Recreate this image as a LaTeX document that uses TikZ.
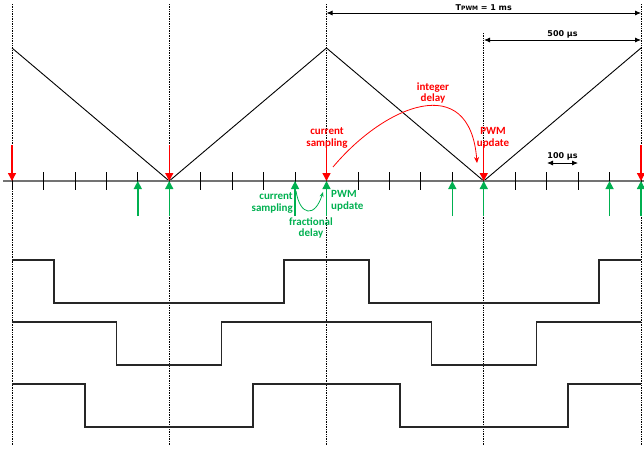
\documentclass[tikz,border=0pt]{standalone}
\usepackage{fontspec}
\usepackage{tikz}
\usetikzlibrary{arrows.meta}
\newfontfamily\lblfont{Carlito}
\newfontfamily\dimfont{DejaVu Sans}
\definecolor{pwmred}{RGB}{255,0,0}
\definecolor{pwmgreen}{RGB}{0,176,80}
\tikzset{
  vline/.style={densely dotted, line width=0.7pt},
  redarr/.style={pwmred, line width=1.4pt, -{Triangle[width=8pt,length=8pt]}},
  greenarr/.style={pwmgreen, line width=1.4pt, -{Triangle[width=8pt,length=8pt]}},
  redlbl/.style={pwmred, font=\lblfont\bfseries\fontsize{11}{11.5}\selectfont, align=center, inner sep=0pt},
  greenlbl/.style={pwmgreen, font=\lblfont\bfseries\fontsize{11}{11.5}\selectfont, align=center, inner sep=0pt},
  dim/.style={line width=0.8pt, {Latex[length=6pt,width=5pt]}-{Latex[length=6pt,width=5pt]}},
  dimlbl/.style={font=\dimfont\bfseries\fontsize{8}{9}\selectfont, inner sep=1.5pt},
  wave/.style={line width=1.2pt, black!85}
}
\begin{document}
\begin{tikzpicture}[x=1pt,y=-1pt]
\useasboundingbox (0,0) rectangle (644,450);
%\draw[help lines] (0,0) grid[step=50] (644,450);
% ticks on the time axis, 100 us apart
\foreach \i in {0,...,20}
  \coordinate (t\i) at (12+\i*31.45,181);
\coordinate (p0) at (12,48);
\coordinate (p10) at (326.5,48);
\coordinate (p20) at (641,48);
% dotted period lines
\foreach \i in {0,5,10,20}
  \draw[vline] ([yshift=177pt]t\i) -- ([yshift=-264pt]t\i);
\draw[vline] ([yshift=148pt]t15) -- ([yshift=-264pt]t15);
% carrier
\draw[line width=0.9pt] (p0) -- (t5) -- (p10) -- (t15) -- (p20);
% axis
\draw[black!55, line width=1.5pt] (3,181) -- (644,181);
\foreach \i in {0,...,20}
  \draw[line width=0.8pt] ([yshift=9pt]t\i) -- ([yshift=-9pt]t\i);
% sampling and update instants
\foreach \i in {0,5,10,15,20}
  \draw[redarr] ([yshift=36pt]t\i) -- (t\i);
\foreach \i in {4,5,9,10,14,15,19,20}
  \draw[greenarr] ([yshift=-35pt]t\i) -- (t\i);
% labels
\node[redlbl] (rs) at (327,138) {current\\sampling};
\node[redlbl] (ri) at (433,93) {integer\\delay};
\node[redlbl] (ru) at (493,138) {PWM\\update};
\node[greenlbl, anchor=east, align=right] (gs) at (293,203) {current\\sampling};
\node[greenlbl, anchor=west, align=left] (gu) at (331,201) {PWM\\update};
\node[greenlbl] (gf) at (311,228) {fractional\\delay};
\coordinate (ra) at (333,167);
\coordinate (rb) at (477,163);
\draw[pwmred, line width=0.8pt, -{Stealth[length=6pt,width=5pt]}]
  (ra) .. controls (385,105) and (470,70) .. (rb);
\coordinate (ga) at (296,191);
\coordinate (gb) at (323,192);
\draw[pwmgreen, line width=0.8pt, -{Stealth[length=5pt,width=4pt]}]
  (ga) .. controls (300,216) and (315,218) .. (gb);
% dimensions
\coordinate (d1a) at (326.5,13);
\coordinate (d1b) at (641,13);
\draw[dim] (d1a) -- node[dimlbl, above] (dt)
  {T{\fontsize{6}{6}\selectfont PWM} = 1 ms} (d1b);
\coordinate (d2a) at (484,40);
\coordinate (d2b) at (641,40);
\draw[dim] (d2a) -- node[dimlbl, above] (d5) {500 µs} (d2b);
\coordinate (d3a) at (547,163);
\coordinate (d3b) at (578,163);
\draw[dim] (d3a) -- node[dimlbl, above, yshift=1pt] (d1) {100 µs} (d3b);
% gate signals
\foreach \w/\hi/\lo in {115/260/303, 52.5/322/365, 84/384/427}
  \draw[wave] (12,\hi) -| ({169-\w},\lo) -| ({169+\w},\hi) -| ({484-\w},\lo)
    -| ({484+\w},\hi) -- (641,\hi);
\end{tikzpicture}
\end{document}
